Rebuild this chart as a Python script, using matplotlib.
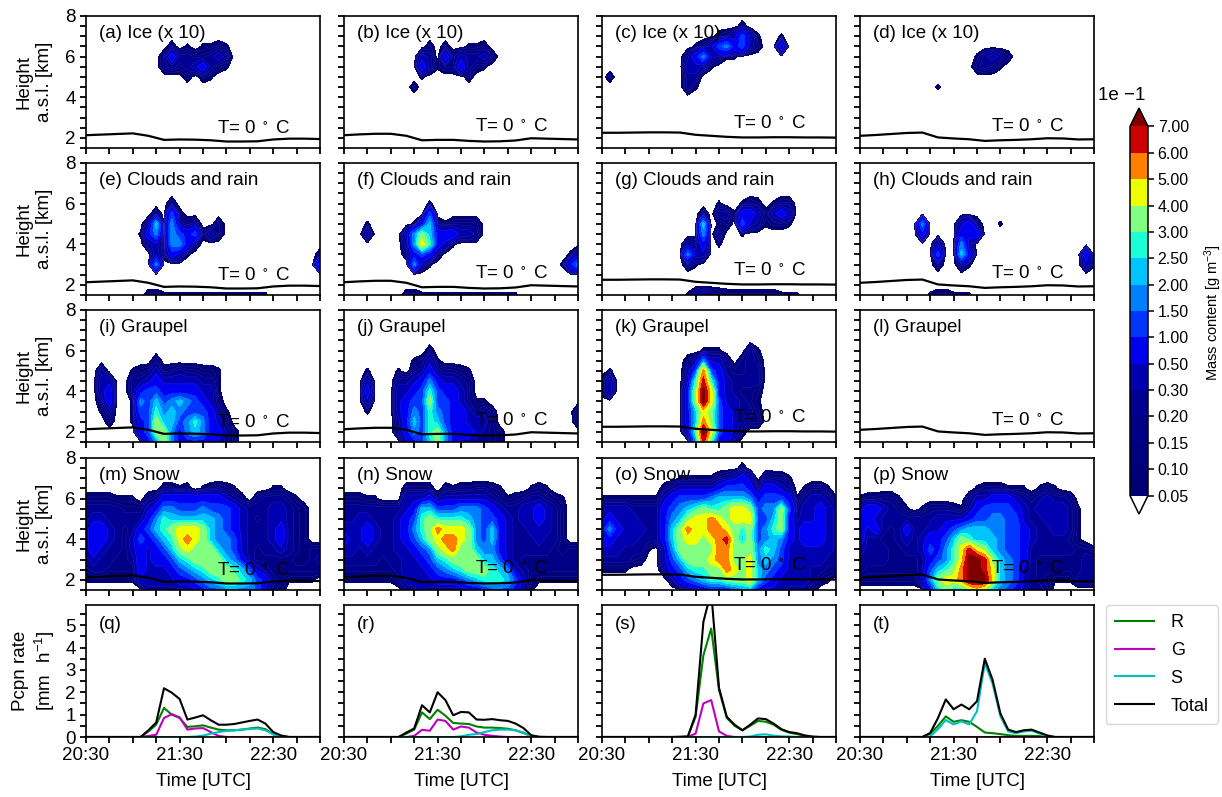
import numpy as np
import matplotlib
matplotlib.use("Agg")
import matplotlib.pyplot as plt
from matplotlib.colors import ListedColormap, BoundaryNorm

plt.rcParams['font.family'] = ['Liberation Sans', 'DejaVu Sans']
plt.rcParams['mathtext.default'] = 'regular'

# time in minutes after 20:30, one column every 5 min
TIMES = np.arange(0, 155, 5)
HEIGHTS = np.arange(1.5, 8.5, 0.5)
LEVELS = [0.05, 0.1, 0.15, 0.2, 0.3, 0.5, 1, 1.5, 2, 2.5, 3, 4, 5, 6, 7]
LEVEL_COLORS = ['#000074', '#00007c', '#000086', '#000092', '#0000b0', '#0000f0', '#0034ff',
                '#0080ff', '#00c4ff', '#1affd5', '#80ff80', '#eeff00', '#ff7f00', '#cc0000']
OVER_COLOR = '#7f0000'

# mass content: each char is a colour band, '.' is nothing
BAND_VALUES = {'.': 0, '1': 0.07, '2': 0.12, '3': 0.17, '4': 0.25, '5': 0.4, '6': 0.75, '7': 1.25,
               '8': 1.75, '9': 2.25, 'a': 2.75, 'b': 3.5, 'c': 4.5, 'd': 5.5, 'e': 6.5, 'f': 7.5}

ICE_A = {6.5: "..... ..... .2.1. 1121.",
         6.0: "..... ..... 36443 3454.",
         5.5: "..... ..... 34345 6421.",
         5.0: "..... ..... ...2. 21..."}
ICE_B = {6.5: "..... ..... .2.2. .112.",
         6.0: "..... ..... 54.63 54453",
         5.5: "..... ..... 64133 6421.",
         5.0: "..... ..... 1.... .2...",
         4.5: "..... ....2"}
ICE_C = {7.5: "..... ..... ..... ...2.",
         7.0: "..... ..... ..... 23575 1..1.",
         6.5: "..... ..... ..135 78674 2..6.",
         6.0: "..... ..... .4685 411..",
         5.5: "..... ..... .5541",
         5.0: ".2... ..... .44..",
         4.5: "..... ..... .41.."}
ICE_D = {6.0: "..... ..... ..... 14542",
         5.5: "..... ..... ..... 3431.",
         4.5: "..... ..... 1...."}

CLOUD_E = {6.0: "..... ..... .3...",
           5.5: "..... ....3 .72..",
           5.0: "..... ...49 18434 ..3..",
           4.5: "..... ..168 28767 253..",
           4.0: "..... ...45 18863",
           3.5: "..... ....5 2651. ..... ..... ..... 2",
           3.0: "..... ....8 ..... ..... ..... ..... 7",
           1.5: "..... ...22 11111 11111 1111."}
CLOUD_F = {6.0: "..... ..... .1...",
           5.5: "..... ..... .7...",
           5.0: "...1. ....1 69313 333..",
           4.5: "...5. ...58 b9666 554..",
           4.0: "..... ...48 ca651",
           3.5: "..... ...26 763.. ..... ..... ....1 5",
           3.0: "..... ....8 41... ..... ..... ...16 8",
           1.5: "..... ...22 11111 11111 111.."}
CLOUD_G = {6.0: "..... ..... ..... 1..13 2.133",
           5.5: "..... ..... ...3. 44166 52565",
           5.0: "..... ..... ...9. 13.75 41221",
           4.5: "..... ..... ...8. 4..1.",
           4.0: "..... ..... .436. 1....",
           3.5: "..... ..... .855.",
           3.0: "..... ..... .31..",
           1.5: "..... ..... .1454 32222 22211 1"}
CLOUD_H = {5.0: "..... ...8. ...56 3..1.",
           4.5: "..... ...6. ...66 6....",
           4.0: "..... ..... 5..84",
           3.5: "..... ..... 7..96 ..... ..... ....6",
           3.0: "..... ..... 3..41 ..... ..... ....5 1",
           1.5: "..... ....1 22111"}

GRAUPEL_I = {5.5: "..... ....3",
             5.0: "..4.. .1235 23433 221..",
             4.5: "..55. .4456 55555 441..",
             4.0: "..56. .4677 66666 551..",
             3.5: "..36. .1879 78987 652..",
             3.0: "..14. .177a 89877 7641.",
             2.5: "...2. .167b 9978a 8653.",
             2.0: "..... ..67b b8689 86642",
             1.5: "..... ...68 b8666 66542"}
GRAUPEL_J = {6.0: "..... ..... .2...",
             5.5: "..... ....1 251..",
             5.0: "...1. ..1.3 46433 21...",
             4.5: "...5. ..445 68655 43...",
             4.0: "...6. ..556 7a766 53...",
             3.5: "...5. ..567 7b776 5311.",
             3.0: "...1. ..568 7a876 65342 ..... ..... 4",
             2.5: "..... ..469 7a976 65553 ..... ..... 3",
             2.0: "..... ..468 7ab86 66543 2....",
             1.5: "..... ...56 79b86 55443 2...."}
GRAUPEL_K = {6.0: "..... ..... ...11 1...4 1",
             5.5: "..... ..... .2485 53.34 3",
             5.0: ".1... ..... .47d7 64334 4",
             4.5: "25... ..... .5aea 65444 4",
             4.0: "25... ..... .6bfc 65433 2",
             3.5: "..... ..... .6bfc 75543 1",
             3.0: "..... ..... .69cb 76544 2",
             2.5: "..... ..... .69db 76543 3",
             2.0: "..... ..... .5afc 7652.",
             1.5: "..... ..... ..8ea 662.."}
GRAUPEL_L = {}

SNOW_M = {6.5: "..... ..... 2212. 12321 ....1 1",
          6.0: "22221 11.34 66666 66654 2.344 431..",
          5.5: "44444 33356 88777 87776 54445 5432.",
          5.0: "45544 44468 a9999 99876 54345 5432.",
          4.5: "56654 34679 abccc b9876 54445 6432.",
          4.0: "56654 35767 9acdc b9887 54445 6432.",
          3.5: "56544 35656 79bcb bb987 54344 54323 3",
          3.0: "45443 34656 679ab bbb98 64333 33223 4",
          2.5: "34433 33655 56789 abbba 97543 33333 3",
          2.0: "11111 11555 55667 89abb a9764 31111 .",
          1.5: "..... ...44 44445 67788 88753 2"}
SNOW_N = {6.5: "..... ...22 22.21 22332 1...1 21",
          6.0: "22211 ...55 56355 55554 31234 4321.",
          5.5: "44444 44456 99777 88876 54455 6542.",
          5.0: "44554 44567 abaaa a9877 65455 6542.",
          4.5: "55565 44568 abdcc cb879 65445 5542.",
          4.0: "65565 44567 9bcdd cb879 65444 5442.",
          3.5: "55454 44556 78bcd bb988 65444 44323 3",
          3.0: "44444 34455 679ab bbb99 75433 33333 3",
          2.5: "33333 33455 56789 abbba 98543 33333 3",
          2.0: "11111 11355 55666 789aa a9752 11111 1",
          1.5: "..... ...34 54333 45567 77641"}
SNOW_O = {7.5: "..... ..... ..... ...2.",
          7.0: "..... ..... 11111 34565 .4331",
          6.5: "..... ...24 55555 67776 36654 .1331",
          6.0: "11111 11156 77778 99998 67776 14554 1",
          5.5: "55554 44467 89aba abccb 788b7 35565 4",
          5.0: "56555 44468 9bccd cbccc 779b6 45565 4",
          4.5: "68655 54469 bdccd dcbab 78ab6 56665 4",
          4.0: "66555 44469 bccbc deb9b 78986 56665 4",
          3.5: "55544 41.58 bbbbb ddbbb 8a975 55555 4",
          3.0: "44443 2..57 9bbbc ddbbc 89875 55554 4",
          2.5: "1111. ...46 79aab bdcbc 98765 55443 3",
          2.0: "..... ....3 6789a abbbc 97655 55421 .",
          1.5: "..... ..... .3456 66788 65554 442.."}
SNOW_P = {6.5: "..... ..... ..... 12221 11.12 1",
          6.0: "12233 1.... ....3 55666 54345 443..",
          5.5: "56654 31.13 33214 67777 65455 5541.",
          5.0: "66544 44444 55556 77887 75445 5541.",
          4.5: "65643 46445 56789 99887 76544 5541.",
          4.0: "64433 45456 679ba 99987 76544 4431.",
          3.5: "54443 34457 68ace cb987 76444 44433 1",
          3.0: "44443 33346 78acf feb98 76433 33334 4",
          2.5: "43333 33347 9abdf fec98 75433 33334 4",
          2.0: "22222 22258 bccdf ffc98 75432 11144 4",
          1.5: "..... ....6 9b99b cb987 65443"}

# freezing level per column of panels, every 10 min
T0_TIMES = np.arange(0, 160, 10)
T0_COLS = [
    [2.13, 2.16, 2.19, 2.22, 2.10, 1.90, 1.92, 1.91, 1.88, 1.82, 1.82, 1.83, 1.92, 1.96, 1.96, 1.94],
    [2.13, 2.17, 2.20, 2.20, 2.10, 1.88, 1.90, 1.90, 1.85, 1.82, 1.83, 1.87, 1.98, 1.96, 1.94, 1.92],
    [2.25, 2.25, 2.26, 2.27, 2.27, 2.26, 2.15, 2.10, 2.05, 2.02, 2.02, 2.03, 2.03, 2.02, 2.02, 2.01],
    [2.10, 2.14, 2.19, 2.24, 2.26, 2.02, 1.97, 1.93, 1.85, 1.88, 1.90, 1.93, 1.98, 1.97, 1.92, 1.93],
]

# precipitation rate, first value is the index of the first non zero time step
R_Q = (8, [.25, .55, 1.3, 1.0, .85, .45, .48, .52, .42, .33, .3, .3, .33, .38, .42, .35, .12, .03])
G_Q = (8, [.05, .1, .85, 1.02, .88, .33, .38, .4, .22, .05])
S_Q = (14, [.02, .06, .15, .22, .27, .3, .33, .36, .38, .3, .12, .03])
T_Q = (8, [.3, .65, 2.18, 1.98, 1.7, .78, .87, .97, .75, .55, .55, .58, .65, .72, .78, .6, .22, .07])
R_R = (8, [.15, .33, 1.1, .8, 1.22, .95, .63, .6, .58, .47, .42, .42, .4, .37, .3, .18, .04])
G_R = (9, [.05, .32, .28, .78, .72, .33, .47, .42, .2, .1, .05, .02])
S_R = (15, [.03, .1, .13, .22, .3, .33, .33, .3, .2, .04])
T_R = (8, [.2, .38, 1.42, 1.1, 2.0, 1.65, .97, 1.12, 1.1, .78, .77, .8, .75, .72, .6, .4, .08, .01])
R_S = (11, [.02, .9, 3.65, 4.85, 2.1, .85, .5, .3, .5, .72, .68, .55, .32, .2, .13, .05])
G_S = (11, [.01, .15, 1.5, 1.65, .25, .05])
S_S = (19, [.02, .1, .12, .06, .03, .02])
T_S = (10, [.01, .02, 1.0, 5.15, 6.5, 2.2, .9, .55, .3, .55, .83, .8, .6, .35, .22, .17, .07, .02])
R_T = (9, [.15, .5, .92, .68, .75, .68, .45, .2, .17, .13, .08, .05, .05, .05, .04, .01])
G_T = (0, [])
S_T = (9, [.03, .35, .76, .56, .7, .56, 1.15, 3.3, 2.38, .92, .25, .17, .25, .28, .16, .05])
T_T = (9, [.18, .85, 1.68, 1.24, 1.45, 1.24, 1.6, 3.5, 2.55, 1.05, .33, .22, .3, .33, .2, .07])

PANELS = [ICE_A, ICE_B, ICE_C, ICE_D, CLOUD_E, CLOUD_F, CLOUD_G, CLOUD_H,
          GRAUPEL_I, GRAUPEL_J, GRAUPEL_K, GRAUPEL_L, SNOW_M, SNOW_N, SNOW_O, SNOW_P]
PANEL_TITLES = ['(a) Ice (x 10)', '(b) Ice (x 10)', '(c) Ice (x 10)', '(d) Ice (x 10)',
                '(e) Clouds and rain', '(f) Clouds and rain', '(g) Clouds and rain', '(h) Clouds and rain',
                '(i) Graupel', '(j) Graupel', '(k) Graupel', '(l) Graupel',
                '(m) Snow', '(n) Snow', '(o) Snow', '(p) Snow']
RATE_TITLES = ['(q)', '(r)', '(s)', '(t)']
RATES = [(R_Q, G_Q, S_Q, T_Q), (R_R, G_R, S_R, T_R), (R_S, G_S, S_S, T_S), (R_T, G_T, S_T, T_T)]
RATE_NAMES = ['R', 'G', 'S', 'Total']
RATE_COLORS = ['g', 'm', 'c', 'k']
TIME_LABELS = ['20:30', '', '', '', '21:30', '', '', '', '22:30', '', '']

FIG_W, FIG_H = 1222, 797
COL_LEFT = [86, 344, 602, 860]
ROW_TOP = [16, 163, 310, 458, 605]
AX_W, AX_H = 234, 132
T0_TEXT_Y = [0.15, 0.16, 0.185, 0.16]
FONT = 13.5


def make_axes(fig, col, row):
    ax = fig.add_axes([COL_LEFT[col] / FIG_W, 1 - (ROW_TOP[row] + AX_H) / FIG_H, AX_W / FIG_W, AX_H / FIG_H])
    ax.set_xlim(0, 150)
    ax.set_xticks(np.arange(0, 165, 15))
    ax.tick_params(width=1.3, length=4.5, labelsize=FONT, pad=3)
    for s in ax.spines.values():
        s.set_linewidth(1.2)
    if row == 4:
        ax.set_xticklabels(TIME_LABELS)
        ax.set_xlabel('Time [UTC]', fontsize=FONT, labelpad=6)
    else:
        ax.set_xticklabels([])
    return ax


def panel_grid(rows):
    grid = np.zeros((len(HEIGHTS), len(TIMES)))
    for h, row in rows.items():
        chars = row.replace(' ', '').ljust(len(TIMES), '.')
        grid[int(round((h - 1.5) / 0.5))] = [BAND_VALUES[c] for c in chars]
    return grid


def rate_series(item):
    start, values = item
    out = np.zeros(len(TIMES))
    out[start:start + len(values)] = values
    return out


cmap = ListedColormap(LEVEL_COLORS)
cmap.set_over(OVER_COLOR)
cmap.set_under('white')
norm = BoundaryNorm(LEVELS, cmap.N)

fig = plt.figure(figsize=(FIG_W / 100, FIG_H / 100), dpi=100)

cs = None
for n, rows in enumerate(PANELS):
    row, col = divmod(n, 4)
    ax = make_axes(fig, col, row)
    grid = panel_grid(rows)
    cs = ax.contourf(TIMES, HEIGHTS, grid, levels=LEVELS, cmap=cmap, norm=norm, extend='both')
    # the faint seams between the dark bands
    if rows:
        ax.contour(TIMES, HEIGHTS, grid, levels=LEVELS[1:6], colors='#5a5ab4', linewidths=0.3, alpha=0.4)
    ax.plot(T0_TIMES, T0_COLS[col], color='k', lw=1.6)
    ax.set_ylim(1.5, 8)
    ax.set_yticks(np.arange(1.5, 8.5, 0.5))
    if col == 0:
        ax.set_yticklabels(['' if h % 2 else f'{h:.0f}' for h in np.arange(1.5, 8.5, 0.5)])
        ax.set_ylabel('Height\na.s.l. [km]', fontsize=FONT, labelpad=9)
    else:
        ax.set_yticklabels([])
    ax.text(0.055, 0.865, PANEL_TITLES[n], transform=ax.transAxes, fontsize=FONT, va='center')
    ax.text(0.56, T0_TEXT_Y[col], r'T= 0 $^\circ$ C', transform=ax.transAxes, fontsize=FONT, va='center')

for col in range(4):
    ax = make_axes(fig, col, 4)
    for item, name, color in zip(RATES[col], RATE_NAMES, RATE_COLORS):
        ax.plot(TIMES, rate_series(item), color=color, lw=1.5, label=name)
    ax.set_ylim(0, 5.9)
    ax.set_yticks(np.arange(0, 6, 0.5))
    if col == 0:
        ax.set_yticklabels(['' if v % 1 else f'{v:.0f}' for v in np.arange(0, 6, 0.5)])
        ax.set_ylabel('Pcpn rate\n[$mm\\ \\ h^{-1}$]', fontsize=FONT, labelpad=6)
    else:
        ax.set_yticklabels([])
    ax.text(0.055, 0.85, RATE_TITLES[col], transform=ax.transAxes, fontsize=FONT, va='center')
    if col == 3:
        ax.legend(loc='upper left', bbox_to_anchor=(1.05, 1.0), fontsize=13, handlelength=2.2,
                  labelspacing=0.6, borderpad=0.5, handletextpad=0.9, borderaxespad=0)

# the triangles are drawn inside this box
cax = fig.add_axes([1130 / FIG_W, 1 - 514 / FIG_H, 18 / FIG_W, 406 / FIG_H])
cb = fig.colorbar(cs, cax=cax, ticks=LEVELS, spacing='uniform', extend='both', format='%.2f')
cb.ax.tick_params(labelsize=11.5, width=1.1, length=4, pad=3)
cb.outline.set_linewidth(1.1)
cb.set_label('Mass content [g m$^{-3}$]', fontsize=10.5)
cb.ax.yaxis.set_label_coords(4.0, 0.496)
fig.text(1098 / FIG_W, 1 - 95 / FIG_H, '1e \u22121', fontsize=13.5, va='center')

fig.savefig('out.png', dpi=100)
